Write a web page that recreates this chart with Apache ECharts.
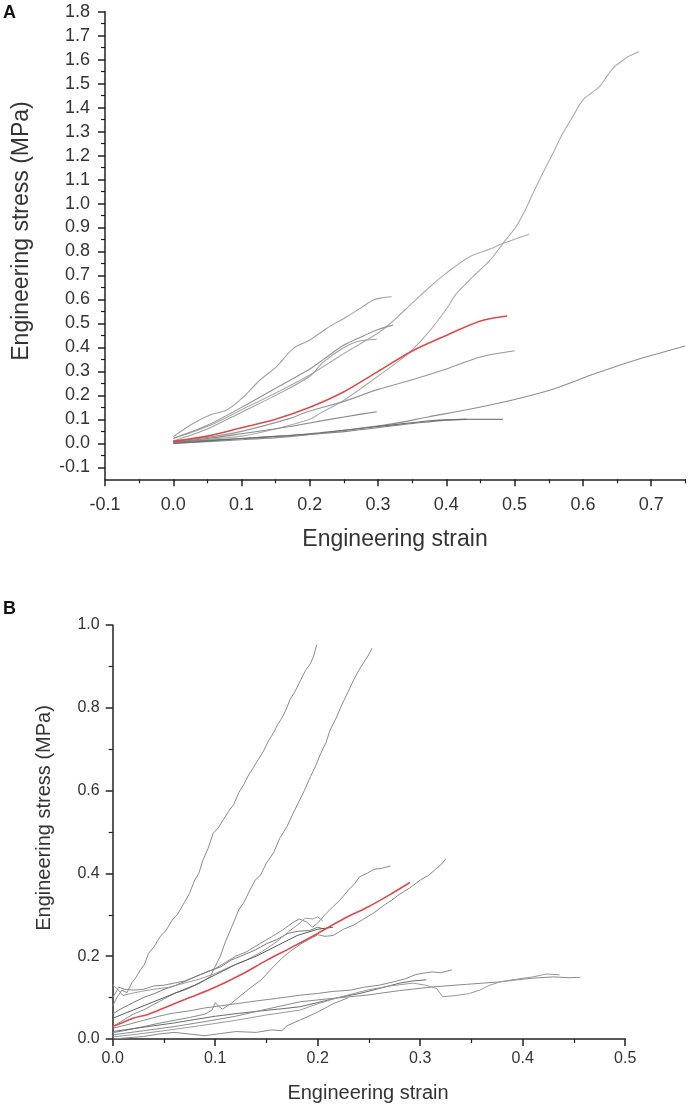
<!DOCTYPE html>
<html>
<head>
<meta charset="utf-8">
<script src="https://cdn.jsdelivr.net/npm/echarts@6/dist/echarts.min.js"></script>
<style>
    html, body { margin: 0; padding: 0; background: #fff; }
    #chart { width: 692px; height: 1111px; }
</style>
</head>
<body>
<div id="chart"></div>
<script>
// ---- Panel A: tick values ----
const aTicksX = [-0.1, 0.0, 0.1, 0.2, 0.3, 0.4, 0.5, 0.6, 0.7];
const aMinorX = [-0.05, 0.05, 0.15, 0.25, 0.35, 0.45, 0.55, 0.65, 0.75];
const aTicksY = [-0.1, 0.0, 0.1, 0.2, 0.3, 0.4, 0.5, 0.6, 0.7, 0.8, 0.9, 1.0, 1.1, 1.2, 1.3, 1.4, 1.5, 1.6, 1.7, 1.8];
const aMinorY = [-0.05, 0.05, 0.15, 0.25, 0.35, 0.45, 0.55, 0.65, 0.75, 0.85, 0.95, 1.05, 1.15, 1.25, 1.35, 1.45, 1.55, 1.65, 1.75];

// ---- Panel A: specimen curves [strain, stress] ----
const aCurve1 = [[0,0.028],[0.029,0.083],[0.054,0.118],[0.078,0.139],[0.103,0.194],[0.127,0.264],[0.151,0.319],[0.176,0.396],[0.2,0.431],[0.225,0.48],[0.254,0.528],[0.275,0.565],[0.293,0.598],[0.306,0.607],[0.32,0.611]];
const aCurve2 = [[0,0.02],[0.05,0.07],[0.1,0.14],[0.15,0.21],[0.2,0.285],[0.25,0.375],[0.3,0.46],[0.32,0.505],[0.35,0.585],[0.376,0.653],[0.4,0.71],[0.434,0.778],[0.464,0.81],[0.483,0.834],[0.505,0.856],[0.521,0.872]];
const aCurve3 = [[0,0.005],[0.1,0.03],[0.15,0.06],[0.2,0.1],[0.215,0.125],[0.25,0.18],[0.29,0.26],[0.332,0.347],[0.35,0.39],[0.376,0.47],[0.4,0.56],[0.415,0.625],[0.439,0.695],[0.464,0.764],[0.483,0.834],[0.502,0.903],[0.515,0.97],[0.527,1.043],[0.54,1.12],[0.556,1.209],[0.57,1.29],[0.585,1.362],[0.6,1.432],[0.612,1.46],[0.624,1.487],[0.635,1.53],[0.644,1.564],[0.655,1.59],[0.668,1.615],[0.682,1.633]];
const aCurve4 = [[0,0.02],[0.05,0.075],[0.1,0.15],[0.15,0.23],[0.2,0.31],[0.22,0.35],[0.25,0.41],[0.28,0.45],[0.3,0.475],[0.322,0.493]];
const aCurve5 = [[0,0.01],[0.05,0.06],[0.1,0.13],[0.15,0.2],[0.2,0.28],[0.22,0.34],[0.25,0.4],[0.27,0.425],[0.298,0.434]];
const aCurve6 = [[0,0.01],[0.05,0.025],[0.1,0.05],[0.171,0.104],[0.2,0.135],[0.25,0.175],[0.3,0.225],[0.35,0.265],[0.4,0.31],[0.45,0.36],[0.5,0.386]];
const aCurve7 = [[0,0.005],[0.05,0.02],[0.1,0.04],[0.171,0.07],[0.2,0.085],[0.25,0.11],[0.298,0.132]];
const aCurve8 = [[0,0.005],[0.1,0.02],[0.171,0.032],[0.253,0.05],[0.351,0.083],[0.424,0.1],[0.483,0.1]];
const aCurve9 = [[0,0.0],[0.1,0.015],[0.171,0.028],[0.253,0.055],[0.318,0.08],[0.375,0.111],[0.43,0.14],[0.497,0.181],[0.55,0.22],[0.619,0.292],[0.68,0.35],[0.75,0.406]];
const aCurve10 = [[0,0.0],[0.1,0.02],[0.2,0.04],[0.3,0.07],[0.38,0.095],[0.43,0.1]];
const aMean = [[0,0.008],[0.05,0.03],[0.1,0.065],[0.15,0.1],[0.2,0.15],[0.25,0.215],[0.3,0.3],[0.35,0.385],[0.4,0.45],[0.45,0.51],[0.489,0.531]];

// ---- Panel B: tick values ----
const bTicksX = [0.0, 0.1, 0.2, 0.3, 0.4, 0.5];
const bMinorX = [0.05, 0.15, 0.25, 0.35, 0.45];
const bTicksY = [0.0, 0.2, 0.4, 0.6, 0.8, 1.0];
const bMinorY = [0.1, 0.3, 0.5, 0.7, 0.9];

// ---- Panel B: specimen curves [strain, stress] ----
const bCurve1 = [[0,0.08],[0.004,0.1],[0.009,0.118],[0.014,0.112],[0.0185,0.135],[0.023,0.15],[0.027,0.167],[0.031,0.18],[0.035,0.207],[0.04,0.222],[0.047,0.25],[0.052,0.262],[0.058,0.287],[0.063,0.3],[0.07,0.33],[0.075,0.352],[0.08,0.384],[0.084,0.4],[0.088,0.432],[0.093,0.46],[0.098,0.497],[0.103,0.51],[0.108,0.53],[0.113,0.55],[0.118,0.566],[0.123,0.595],[0.128,0.615],[0.132,0.635],[0.137,0.655],[0.142,0.675],[0.147,0.695],[0.152,0.72],[0.157,0.74],[0.161,0.76],[0.165,0.775],[0.169,0.795],[0.173,0.82],[0.178,0.84],[0.183,0.865],[0.188,0.89],[0.193,0.907],[0.196,0.925],[0.199,0.952]];
const bCurve2 = [[0,0.03],[0.01,0.045],[0.02,0.06],[0.03,0.07],[0.045,0.09],[0.06,0.11],[0.072,0.12],[0.085,0.135],[0.095,0.15],[0.1,0.175],[0.105,0.2],[0.11,0.235],[0.116,0.27],[0.123,0.312],[0.128,0.33],[0.134,0.36],[0.139,0.384],[0.144,0.395],[0.15,0.425],[0.157,0.45],[0.163,0.485],[0.17,0.513],[0.176,0.545],[0.182,0.575],[0.187,0.6],[0.193,0.634],[0.198,0.66],[0.203,0.69],[0.208,0.715],[0.212,0.746],[0.218,0.775],[0.224,0.81],[0.23,0.84],[0.235,0.867],[0.24,0.89],[0.245,0.91],[0.249,0.925],[0.253,0.944]];
const bCurve3 = [[0,0.1],[0.006,0.125],[0.012,0.12],[0.02,0.118],[0.03,0.12],[0.04,0.128],[0.05,0.13],[0.06,0.135],[0.07,0.14],[0.08,0.15],[0.09,0.16],[0.1,0.17],[0.11,0.185],[0.12,0.2],[0.13,0.21],[0.14,0.225],[0.155,0.247],[0.165,0.262],[0.175,0.28],[0.182,0.29],[0.189,0.283],[0.195,0.27],[0.2,0.28],[0.207,0.3],[0.215,0.32],[0.222,0.336],[0.23,0.36],[0.236,0.375],[0.241,0.392],[0.248,0.4],[0.255,0.41],[0.262,0.412],[0.271,0.418]];
const bCurve4 = [[0,0.015],[0.015,0.022],[0.03,0.03],[0.045,0.038],[0.06,0.045],[0.075,0.052],[0.09,0.06],[0.097,0.07],[0.1,0.088],[0.103,0.08],[0.107,0.072],[0.115,0.085],[0.125,0.105],[0.135,0.125],[0.145,0.143],[0.155,0.17],[0.165,0.195],[0.175,0.215],[0.185,0.232],[0.195,0.245],[0.2,0.252],[0.207,0.248],[0.215,0.25],[0.225,0.265],[0.235,0.275],[0.245,0.29],[0.255,0.305],[0.264,0.322],[0.272,0.335],[0.28,0.35],[0.29,0.365],[0.3,0.384],[0.308,0.395],[0.315,0.41],[0.32,0.42],[0.325,0.435]];
const bCurve5 = [[0,0.06],[0.006,0.07],[0.012,0.078],[0.02,0.088],[0.03,0.1],[0.041,0.11],[0.05,0.12],[0.06,0.128],[0.074,0.143],[0.085,0.155],[0.095,0.165],[0.106,0.175],[0.115,0.19],[0.125,0.2],[0.139,0.215],[0.15,0.23],[0.16,0.24],[0.171,0.255],[0.18,0.26],[0.192,0.262],[0.2,0.27],[0.207,0.265]];
const bCurve6 = [[0,0.13],[0.005,0.12],[0.01,0.105],[0.018,0.11],[0.028,0.115],[0.04,0.12],[0.055,0.125],[0.07,0.135],[0.085,0.145],[0.1,0.158],[0.115,0.175],[0.13,0.19],[0.145,0.21],[0.16,0.235],[0.172,0.26],[0.18,0.275],[0.188,0.292],[0.195,0.29],[0.2,0.295],[0.205,0.285]];
const bCurve7 = [[0,0.05],[0.02,0.07],[0.04,0.09],[0.06,0.11],[0.08,0.13],[0.1,0.155],[0.12,0.18],[0.14,0.2],[0.16,0.225],[0.18,0.25],[0.2,0.265],[0.215,0.27]];
const bCurve8 = [[0,0.026],[0.015,0.035],[0.03,0.045],[0.045,0.055],[0.058,0.062],[0.075,0.068],[0.09,0.075],[0.105,0.08],[0.123,0.086],[0.14,0.092],[0.16,0.098],[0.183,0.106],[0.2,0.11],[0.215,0.115],[0.232,0.118],[0.245,0.125],[0.26,0.13],[0.274,0.138],[0.285,0.145],[0.295,0.155],[0.303,0.159],[0.312,0.162],[0.32,0.16],[0.331,0.167]];
const bCurve9 = [[0,0.018],[0.02,0.025],[0.04,0.032],[0.058,0.038],[0.08,0.047],[0.1,0.055],[0.123,0.062],[0.145,0.068],[0.165,0.073],[0.183,0.078],[0.2,0.088],[0.22,0.1],[0.241,0.11],[0.26,0.122],[0.28,0.135],[0.292,0.14],[0.306,0.143]];
const bCurve10 = [[0,0.01],[0.03,0.02],[0.06,0.03],[0.09,0.042],[0.12,0.055],[0.15,0.072],[0.183,0.09],[0.21,0.097],[0.248,0.106],[0.28,0.117],[0.313,0.126],[0.345,0.132],[0.378,0.138],[0.395,0.143],[0.41,0.147],[0.43,0.15],[0.445,0.148],[0.456,0.149]];
const bCurve11 = [[0,0.005],[0.025,0.012],[0.05,0.02],[0.085,0.032],[0.12,0.045],[0.15,0.058],[0.183,0.07],[0.2,0.085],[0.22,0.1],[0.248,0.118],[0.27,0.128],[0.293,0.135],[0.305,0.13],[0.316,0.122],[0.322,0.102],[0.335,0.105],[0.348,0.11],[0.358,0.118],[0.368,0.13],[0.378,0.138],[0.395,0.145],[0.41,0.15],[0.423,0.157],[0.436,0.155]];
const bCurve12 = [[0,0.0],[0.015,0.003],[0.03,0.006],[0.045,0.012],[0.06,0.016],[0.075,0.012],[0.09,0.008],[0.105,0.013],[0.12,0.018],[0.14,0.016],[0.155,0.022],[0.165,0.02],[0.17,0.032],[0.183,0.046],[0.2,0.065],[0.215,0.085],[0.23,0.1]];
const bMean = [[0,0.03],[0.01,0.04],[0.02,0.05],[0.035,0.06],[0.05,0.075],[0.075,0.1],[0.1,0.125],[0.125,0.155],[0.15,0.19],[0.175,0.222],[0.2,0.255],[0.225,0.29],[0.25,0.32],[0.27,0.348],[0.29,0.378]];

const FONT = 'Liberation Sans, Arial, sans-serif';
const fmt = v => v.toFixed(1);

function mainX(grid, min, max, ticks, fontSize, margin) {
    return {
        type: 'value', gridIndex: grid, min: min, max: max, position: 'bottom',
        axisLine: {show: true, onZero: false, lineStyle: {color: '#222', width: 1.5}},
        axisTick: {show: true, length: 7, customValues: ticks, lineStyle: {color: '#222', width: 1.5}},
        axisLabel: {customValues: ticks, formatter: fmt, color: '#333', fontSize: fontSize, fontFamily: FONT, margin: margin},
        splitLine: {show: false}
    };
}
function mainY(grid, min, max, ticks, fontSize, margin) {
    return {
        type: 'value', gridIndex: grid, min: min, max: max, position: 'left',
        axisLine: {show: true, onZero: false, lineStyle: {color: '#222', width: 1.5}},
        axisTick: {show: true, length: 7, customValues: ticks, lineStyle: {color: '#222', width: 1.5}},
        axisLabel: {customValues: ticks, formatter: fmt, color: '#333', fontSize: fontSize, fontFamily: FONT, margin: margin},
        splitLine: {show: false}
    };
}
// extra axis that only draws the short minor ticks
function minorAxis(grid, min, max, ticks, pos) {
    return {
        type: 'value', gridIndex: grid, min: min, max: max, position: pos,
        axisLine: {show: false, onZero: false},
        axisTick: {show: true, length: 4, customValues: ticks, lineStyle: {color: '#222', width: 1.2}},
        axisLabel: {show: false},
        splitLine: {show: false}
    };
}
function line(data, xi, color, width, smooth) {
    return {
        type: 'line', data: data, xAxisIndex: xi, yAxisIndex: xi,
        showSymbol: false, silent: true, smooth: smooth || false,
        lineStyle: {color: color, width: width}
    };
}

const chart = echarts.init(document.getElementById('chart'));
chart.setOption({
    animation: false,
    backgroundColor: '#fff',
    grid: [
        {left: 105, top: 11.7, width: 580.3, height: 467.6},
        {left: 112.7, top: 625, width: 512.5, height: 414}
    ],
    xAxis: [
        mainX(0, -0.1, 0.75, aTicksX, 18, 17),
        minorAxis(0, -0.1, 0.75, aMinorX, 'bottom'),
        mainX(1, 0, 0.5, bTicksX, 16, 12),
        minorAxis(1, 0, 0.5, bMinorX, 'bottom')
    ],
    yAxis: [
        mainY(0, -0.15, 1.8, aTicksY, 18, 15),
        minorAxis(0, -0.15, 1.8, aMinorY, 'left'),
        mainY(1, 0, 1.0, bTicksY, 16, 13),
        minorAxis(1, 0, 1.0, bMinorY, 'left')
    ],
    series: [
        line(aCurve1, 0, '#a0a0a0', 1.1, 0.3),
        line(aCurve2, 0, '#ababab', 1.1, 0.3),
        line(aCurve3, 0, '#ababab', 1.1, 0.3),
        line(aCurve4, 0, '#929292', 1.1, 0.3),
        line(aCurve5, 0, '#a0a0a0', 1.1, 0.3),
        line(aCurve6, 0, '#969696', 1.1, 0.3),
        line(aCurve7, 0, '#888888', 1.1, 0.3),
        line(aCurve8, 0, '#808080', 1.1, 0.3),
        line(aCurve9, 0, '#8e8e8e', 1.1, 0.3),
        line(aCurve10, 0, '#6e6e6e', 1.1, 0.3),
        line(aMean, 0, '#e04a4a', 1.6, 0.3),

        line(bCurve1, 2, '#8a8a8a', 1),
        line(bCurve2, 2, '#8a8a8a', 1),
        line(bCurve3, 2, '#8a8a8a', 1),
        line(bCurve4, 2, '#7f8f8a', 1),
        line(bCurve5, 2, '#7a7a7a', 1),
        line(bCurve6, 2, '#9a9a9a', 1),
        line(bCurve7, 2, '#5a5a5a', 1),
        line(bCurve8, 2, '#8a8a8a', 1),
        line(bCurve9, 2, '#6a6a6a', 1),
        line(bCurve10, 2, '#8a8a8a', 1),
        line(bCurve11, 2, '#9a9a9a', 1),
        line(bCurve12, 2, '#8a8a8a', 1),
        line(bMean, 2, '#e04a4a', 1.6, 0.3)
    ],
    graphic: [
        {type: 'text', x: 3, y: 4, style: {text: 'A', fontSize: 18, fontWeight: 'bold', fontFamily: FONT, fill: '#111'}},
        {type: 'text', x: 3, y: 600, style: {text: 'B', fontSize: 18, fontWeight: 'bold', fontFamily: FONT, fill: '#111'}},
        {type: 'text', x: 22, y: 231, rotation: Math.PI / 2,
            style: {text: 'Engineering stress (MPa)', fontSize: 23, fontFamily: FONT, fill: '#333', textAlign: 'center', textVerticalAlign: 'middle'}},
        {type: 'text', x: 395, y: 540,
            style: {text: 'Engineering strain', fontSize: 23, fontFamily: FONT, fill: '#333', textAlign: 'center', textVerticalAlign: 'middle'}},
        {type: 'text', x: 44, y: 818, rotation: Math.PI / 2,
            style: {text: 'Engineering stress (MPa)', fontSize: 20, fontFamily: FONT, fill: '#333', textAlign: 'center', textVerticalAlign: 'middle'}},
        {type: 'text', x: 368, y: 1093,
            style: {text: 'Engineering strain', fontSize: 20, fontFamily: FONT, fill: '#333', textAlign: 'center', textVerticalAlign: 'middle'}}
    ]
});
</script>
</body>
</html>
